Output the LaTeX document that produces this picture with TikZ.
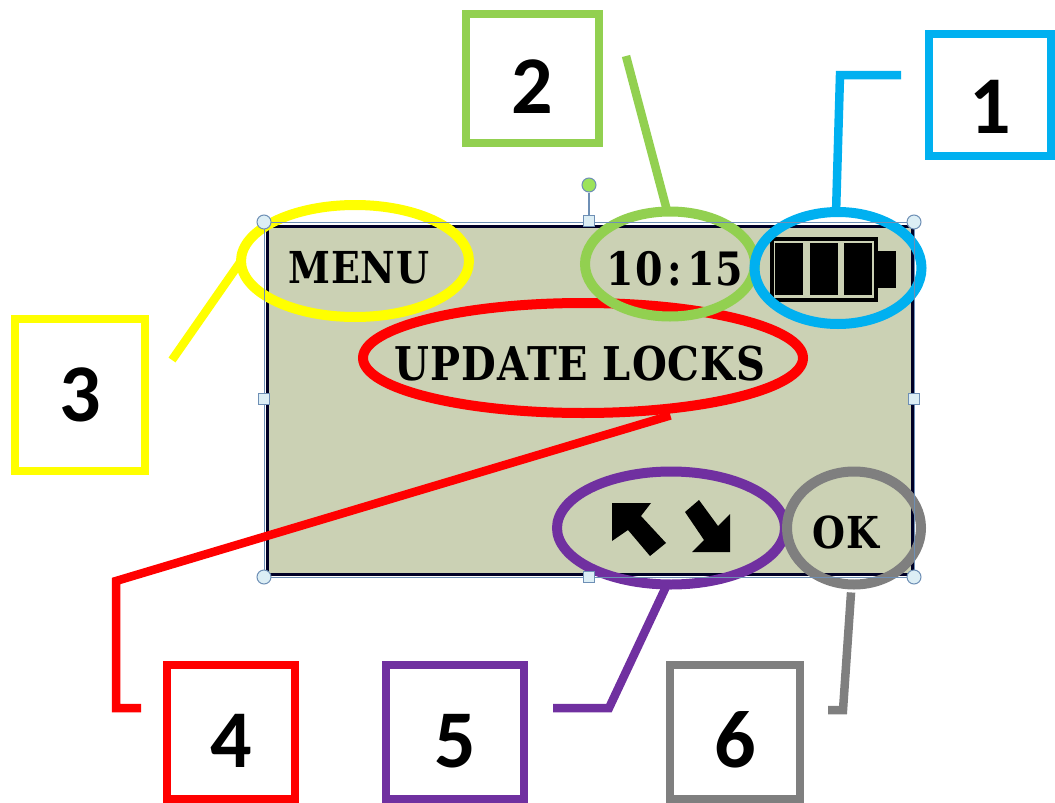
\documentclass[tikz,border=0pt]{standalone}
\usepackage{fontspec}
\setmainfont{Carlito}
\newfontfamily\lcdfont[FakeStretch=0.86, LetterSpace=2]{DejaVu Serif}
\usetikzlibrary{shapes.geometric, positioning}
\definecolor{lcdgreen}{HTML}{CBD1B4}
\definecolor{cyan1}{HTML}{00B0F0}
\definecolor{green2}{HTML}{92D050}
\definecolor{yellow3}{HTML}{FFFF00}
\definecolor{red4}{HTML}{FF0000}
\definecolor{purple5}{HTML}{7030A0}
\definecolor{gray6}{HTML}{7F7F7F}
\definecolor{handleline}{HTML}{6E8FB5}
\definecolor{handlefill}{HTML}{DCEEF5}
\definecolor{rotatefill}{HTML}{9CE35A}
\tikzset{
    numbox/.style={draw, line width=8pt, inner sep=0pt, outer sep=0pt, text depth=0pt, font=\fontsize{82}{82}\selectfont\bfseries},
    ring/.style={ellipse, draw, line width=10pt, inner sep=0pt, outer sep=0pt},
    lead/.style={line width=8.5pt, line join=miter},
    lcdtext/.style={font=\fontsize{#1}{#1}\selectfont\lcdfont\bfseries, inner sep=0pt},
    cornerhandle/.style={circle, draw=handleline, fill=handlefill, line width=1pt, minimum size=14pt, inner sep=0pt},
    sidehandle/.style={rectangle, draw=handleline, fill=handlefill, line width=1pt, minimum size=11pt, inner sep=0pt},
}
\begin{document}
\begin{tikzpicture}[x=1pt, y=-1pt]
        \useasboundingbox (0,0) rectangle (1055,803);

        % display
        \node[rectangle, draw=black!85!blue, fill=lcdgreen, line width=3pt, minimum width=645pt, minimum height=348pt, inner sep=0pt] (lcd) at (590,400.5) {};
        \node[lcdtext=44] (menu) at (359,268) {MENU};
        \node[lcdtext=46] (clock) at (675,269) {10\hspace{5pt}:\hspace{5pt}15};
        \node[lcdtext=46.5] (update) at (580,364) {UPDATE LOCKS};
        \node[lcdtext=44] (ok) at (846,532) {OK};

        % battery
        \draw[line width=4pt] (772,239) rectangle (876,300);
        \fill (775,243) rectangle (803,295);
        \fill (810,243) rectangle (838,295);
        \fill (844,243) rectangle (872,295);
        \fill (878,251) rectangle (896,288);

        % arrows
        \fill (612,503) -- (651,503) -- (641,516) -- (666,543) -- (650,556) -- (628,530) -- (612,541) -- cycle;
        \fill (730,552) -- (692,552) -- (704,540) -- (685,512) -- (699,500) -- (718,526) -- (730,514) -- cycle;

        % rings
        \node[ring, draw=red4, minimum width=440pt, minimum height=110pt] (ringupdate) at (583,358) {};
        \node[ring, draw=yellow3, minimum width=228pt, minimum height=112pt] (ringmenu) at (355,261) {};
        \node[ring, draw=green2, minimum width=170pt, minimum height=105pt] (ringclock) at (670,264) {};
        \node[ring, draw=cyan1, minimum width=167pt, minimum height=112pt] (ringbatt) at (838,268) {};
        \node[ring, draw=purple5, minimum width=228pt, minimum height=113pt] (ringarrows) at (671,528) {};
        \node[ring, draw=gray6, minimum width=134pt, minimum height=113pt] (ringok) at (854,528) {};

        % selection handles
        \draw[handleline, line width=1pt] (264,222) rectangle (914,577);
        \node[sidehandle] (topmid) at (589,221) {};
        \node[circle, draw=handleline, fill=rotatefill, line width=1pt, minimum size=14pt, inner sep=0pt] (rotate) at (589,185) {};
        \draw[handleline, line width=1.5pt] (rotate) -- (topmid);
        \node[cornerhandle] (tl) at (264,222) {};
        \node[cornerhandle] (tr) at (914,222) {};
        \node[cornerhandle] (bl) at (264,577) {};
        \node[cornerhandle] (br) at (914,577) {};
        \node[sidehandle] (leftmid) at (264,399) {};
        \node[sidehandle] (rightmid) at (914,399) {};
        \node[sidehandle] (botmid) at (589,577) {};

        % numbered boxes
        \node[numbox, draw=cyan1, text height=76pt, minimum width=122pt, minimum height=122pt] (one) at (990,95) {1};
        \node[numbox, draw=green2, text height=70pt, minimum width=133pt, minimum height=129pt] (two) at (532.5,78) {2};
        \node[numbox, draw=yellow3, text height=52pt, minimum width=130pt, minimum height=152pt] (three) at (80,395) {3};
        \node[numbox, draw=red4, text height=70pt, minimum width=128pt, minimum height=134pt] (four) at (231,732) {4};
        \node[numbox, draw=purple5, text height=70pt, minimum width=138pt, minimum height=134pt] (five) at (455,732) {5};
        \node[numbox, draw=gray6, text height=70pt, minimum width=130pt, minimum height=134pt] (six) at (735,732) {6};

        % leader lines
        \coordinate (endone) at (901,75);
        \coordinate (endtwo) at (626,56);
        \coordinate (endthree) at (172,360);
        \coordinate (endfour) at (141,708);
        \coordinate (endfive) at (553,708);
        \coordinate (endsix) at (828,710);
        \draw[lead, cyan1] (endone) -- (840,75) -- (ringbatt.92);
        \draw[lead, green2] (endtwo) -- (ringclock.93);
        \draw[lead, yellow3] (endthree) -- (ringmenu.west);
        \draw[lead, red4] (endfour) -- (116,708) -- (116,581) -- ([yshift=-7pt]ringupdate.-30);
        \draw[lead, purple5] (endfive) -- (609,708) -- (ringarrows.266);
        \draw[lead, gray6] (endsix) -- (843,710) -- ([yshift=-8pt]ringok.267);
    \end{tikzpicture}
\end{document}
